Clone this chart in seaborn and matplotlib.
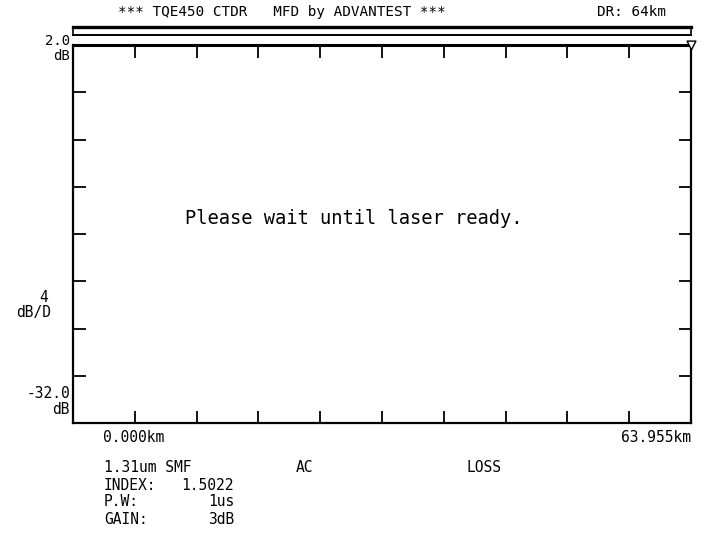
import numpy as np
import pandas as pd
import matplotlib
matplotlib.use("Agg")
import matplotlib.pyplot as plt
import seaborn as sns

# ---- chart content ----
title_text = "*** TQE450 CTDR   MFD by ADVANTEST ***"
range_text = "DR: 64km"
message = "Please wait until laser ready."
x_start_km = 0.0
x_end_km = 63.955
x_start_label = "0.000km"
x_end_label = "63.955km"
y_top_db = 2.0
y_bottom_db = -32.0
y_top_label = "2.0"
y_bottom_label = "-32.0"
y_scale_label = "4"
y_scale_unit = "dB/D"
n_xdiv = 10
n_ydiv = 8
cursor_km = [63.955]
cursor_db = [2.0]
info_labels = ["1.31um SMF", "INDEX:", "P.W:", "GAIN:"]
info_values = ["", "1.5022", "1us", "3dB"]
mode_text = "AC"
loss_text = "LOSS"

sns.set_style("white")
plt.rcParams["font.family"] = ["DejaVu Sans Mono"]
plt.rcParams["text.color"] = "black"

W, H = 704, 547
fig = plt.figure(figsize=(W / 100, H / 100), dpi=100)
fig.patch.set_facecolor("white")

def fx(px):
    return px / W

def fy(py):
    return 1 - py / H

# main trace area
L, R, T, B = 73, 691, 45, 423
ax = fig.add_axes([fx(L), fy(B), fx(R - L), fy(T) - fy(B)])
ax.set_xlim(x_start_km, x_end_km)
ax.set_ylim(y_bottom_db, y_top_db)
ax.set_xticks(np.linspace(x_start_km, x_end_km, n_xdiv + 1)[1:-1])
ax.set_yticks(np.linspace(y_bottom_db, y_top_db, n_ydiv + 1)[1:-1])
ax.set_xticklabels([])
ax.set_yticklabels([])
ax.tick_params(axis="both", direction="in", length=9, width=1.3, color="black",
               top=True, bottom=True, left=True, right=True)
for s in ax.spines.values():
    s.set_visible(True)
    s.set_color("black")
    s.set_linewidth(1.6)
ax.spines["top"].set_linewidth(2.2)

cur = pd.DataFrame({"km": cursor_km, "db": cursor_db})
sns.scatterplot(data=cur, x="km", y="db", marker="v", s=40, facecolor="white",
                edgecolor="black", linewidth=1.0, ax=ax, clip_on=False, zorder=5)
ax.set_xlabel("")
ax.set_ylabel("")

fig.text(fx(354), fy(218), message, ha="center", va="center", fontsize=13.5)

# top double bar
bar = fig.add_axes([fx(L), fy(35), fx(R - L), fy(27) - fy(35)])
bar.set_xticks([]); bar.set_yticks([])
bar.set_facecolor("white")
for k, s in bar.spines.items():
    s.set_color("black")
bar.spines["top"].set_linewidth(2.4)
bar.spines["bottom"].set_linewidth(1.4)
bar.spines["left"].set_linewidth(1.2)
bar.spines["right"].set_linewidth(1.2)

# header texts
fig.text(fx(118), fy(12), title_text, ha="left", va="center", fontsize=10.3)
fig.text(fx(666), fy(12), range_text, ha="right", va="center", fontsize=10.3)

# y labels
fig.text(fx(70), fy(41), y_top_label, ha="right", va="center", fontsize=10)
fig.text(fx(70), fy(56), "dB", ha="right", va="center", fontsize=10)
fig.text(fx(44), fy(297), y_scale_label, ha="center", va="center", fontsize=10.5)
fig.text(fx(34), fy(313), y_scale_unit, ha="center", va="center", fontsize=10.5)
fig.text(fx(70), fy(394), y_bottom_label, ha="right", va="center", fontsize=10.5)
fig.text(fx(70), fy(409), "dB", ha="right", va="center", fontsize=10.5)

# x labels
fig.text(fx(103), fy(438), x_start_label, ha="left", va="center", fontsize=10.5)
fig.text(fx(691), fy(438), x_end_label, ha="right", va="center", fontsize=10.5)

# info block
rows_y = [468, 485, 502, 519]
for lab, val, yy in zip(info_labels, info_values, rows_y):
    fig.text(fx(104), fy(yy), lab, ha="left", va="center", fontsize=10.5)
    if val:
        fig.text(fx(234), fy(yy), val, ha="right", va="center", fontsize=10.5)
fig.text(fx(296), fy(468), mode_text, ha="left", va="center", fontsize=10.5)
fig.text(fx(466), fy(468), loss_text, ha="left", va="center", fontsize=10.5)

fig.savefig("out.png", dpi=100, facecolor="white")
